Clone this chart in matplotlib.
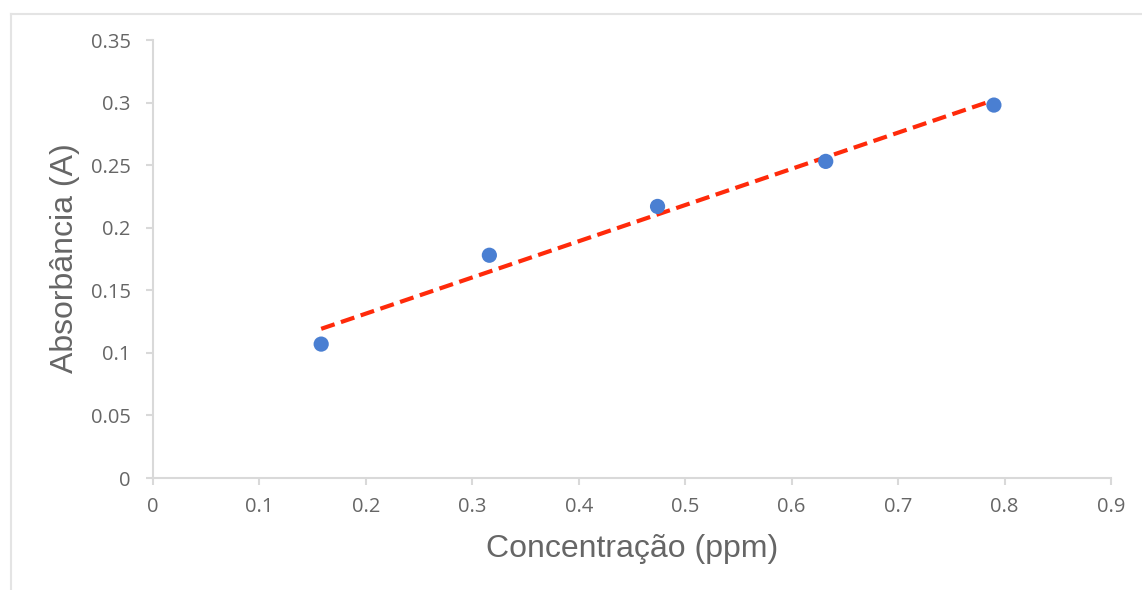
import numpy as np
import matplotlib
matplotlib.use("Agg")
import matplotlib.pyplot as plt
from matplotlib.lines import Line2D

# Data
concentracao = [0.158, 0.316, 0.474, 0.632, 0.790]
absorbancia = [0.107, 0.178, 0.217, 0.253, 0.298]
x_ticks = [0, 0.1, 0.2, 0.3, 0.4, 0.5, 0.6, 0.7, 0.8, 0.9]
y_ticks = [0, 0.05, 0.1, 0.15, 0.2, 0.25, 0.3, 0.35]
x_tick_labels = ["0", "0.1", "0.2", "0.3", "0.4", "0.5", "0.6", "0.7", "0.8", "0.9"]
y_tick_labels = ["0", "0.05", "0.1", "0.15", "0.2", "0.25", "0.3", "0.35"]

W, H = 1142, 590
fig = plt.figure(figsize=(W / 100, H / 100), dpi=100)
ax = fig.add_axes([153 / W, 1 - 478 / H, (1111 - 153) / W, (478 - 40) / H])

# Linear trend line
slope, intercept = np.polyfit(concentracao, absorbancia, 1)
xs = np.array([min(concentracao), max(concentracao)])
ax.plot(xs, slope * xs + intercept, color="#ff2a0a", lw=3.0,
        dashes=(3.4, 1.6), solid_capstyle="butt", dash_capstyle="butt", zorder=2)

ax.scatter(concentracao, absorbancia, s=120, color="#4a7fd2", edgecolors="none", zorder=3)

ax.set_xlim(0, 0.9)
ax.set_ylim(0, 0.35)
ax.set_xticks(x_ticks)
ax.set_xticklabels(x_tick_labels)
ax.set_yticks(y_ticks)
ax.set_yticklabels(y_tick_labels)

for s in ["top", "right"]:
    ax.spines[s].set_visible(False)
for s in ["left", "bottom"]:
    ax.spines[s].set_color("#d9d9d9")
    ax.spines[s].set_linewidth(1.5)

ax.tick_params(axis="both", colors="#d9d9d9", width=1.5, length=5,
               labelcolor="#666666", labelsize=14.5)
ax.tick_params(axis="y", pad=11)
ax.tick_params(axis="x", pad=9)
for lab in ax.get_xticklabels() + ax.get_yticklabels():
    lab.set_family(["Open Sans", "DejaVu Sans"])

fig.text(65 / W, 1 - 258 / H, "Absorbância (A)", rotation=90, ha="center", va="center",
         fontsize=23, color="#666666", family=["Liberation Sans", "DejaVu Sans"])
fig.text(632 / W, 1 - 549 / H, "Concentração (ppm)", ha="center", va="center",
         fontsize=23, color="#666666", family=["Liberation Sans", "DejaVu Sans"])

# Outer chart border (left and top visible)
fig.add_artist(Line2D([10.5 / W, 10.5 / W], [0, 1 - 13.5 / H], transform=fig.transFigure,
                      color="#e4e4e4", lw=1.5))
fig.add_artist(Line2D([10.5 / W, 1], [1 - 13.5 / H, 1 - 13.5 / H], transform=fig.transFigure,
                      color="#e4e4e4", lw=1.5))

fig.savefig("out.png", dpi=100, facecolor="white")
